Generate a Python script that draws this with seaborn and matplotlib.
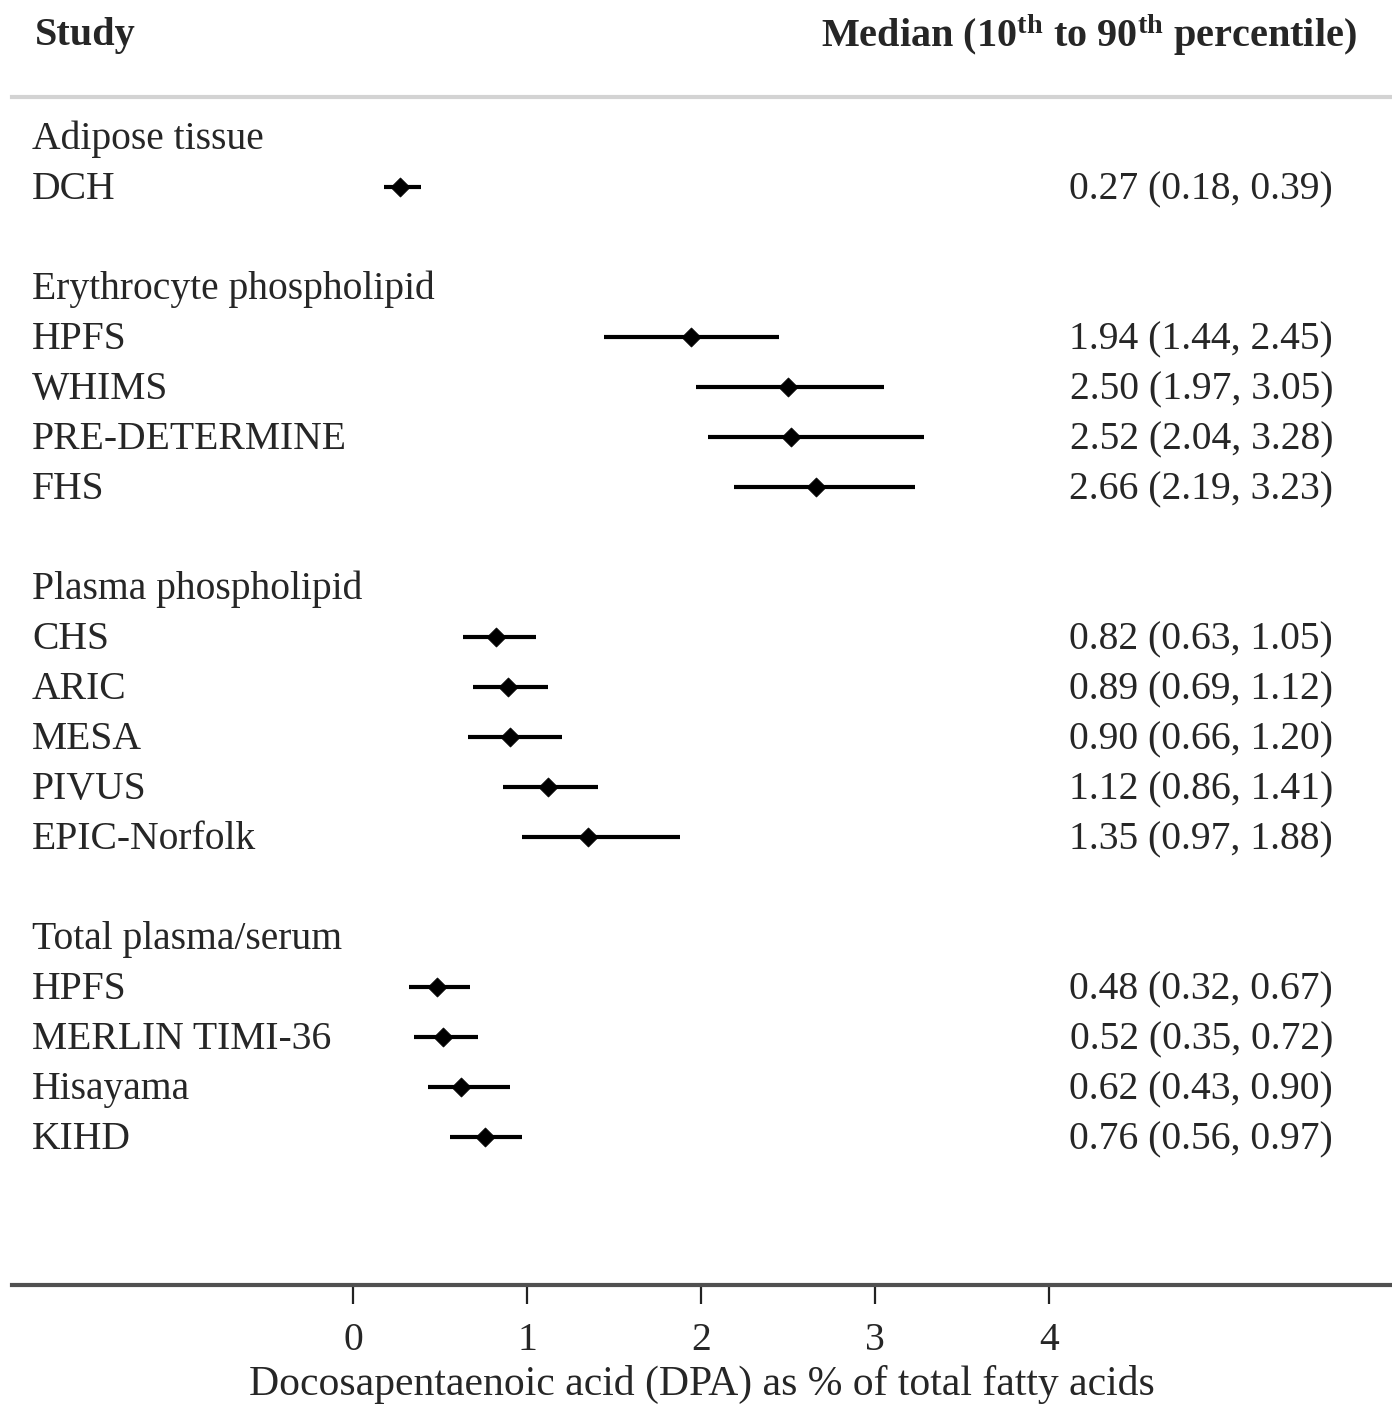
import matplotlib
matplotlib.use("Agg")
import matplotlib.pyplot as plt
import seaborn as sns
import pandas as pd

# Study groups and per-study DPA distributions (% of total fatty acids)
groups = ["Adipose tissue", "Erythrocyte phospholipid", "Plasma phospholipid", "Total plasma/serum"]
group_of_study = [0, 1, 1, 1, 1, 2, 2, 2, 2, 2, 3, 3, 3, 3]
studies = ["DCH", "HPFS", "WHIMS", "PRE-DETERMINE", "FHS",
           "CHS", "ARIC", "MESA", "PIVUS", "EPIC-Norfolk",
           "HPFS", "MERLIN TIMI-36", "Hisayama", "KIHD"]
medians = [0.27, 1.94, 2.50, 2.52, 2.66, 0.82, 0.89, 0.90, 1.12, 1.35, 0.48, 0.52, 0.62, 0.76]
p10 = [0.18, 1.44, 1.97, 2.04, 2.19, 0.63, 0.69, 0.66, 0.86, 0.97, 0.32, 0.35, 0.43, 0.56]
p90 = [0.39, 2.45, 3.05, 3.28, 3.23, 1.05, 1.12, 1.20, 1.41, 1.88, 0.67, 0.72, 0.90, 0.97]
xticks = [0, 1, 2, 3, 4]

sns.set_theme(style="white")
plt.rcParams["font.family"] = ["Liberation Serif", "DejaVu Serif"]
plt.rcParams["mathtext.fontset"] = "custom"
plt.rcParams["mathtext.rm"] = "Liberation Serif:bold"
plt.rcParams["mathtext.bf"] = "Liberation Serif:bold"
plt.rcParams["mathtext.it"] = "Liberation Serif:bold:italic"

FS = 28.5

# Row layout: group header, its studies, then a blank spacer row
header_rows = []
study_rows = []
row = 0
prev = None
for g in group_of_study:
    if g != prev:
        if prev is not None:
            row += 1
        header_rows.append(row)
        row += 1
        prev = g
    study_rows.append(row)
    row += 1

df = pd.DataFrame({"study": studies, "median": medians, "lo": p10, "hi": p90, "row": study_rows})

W, H = 1392, 1405
fig = plt.figure(figsize=(W / 100, H / 100), dpi=100)
ax = fig.add_axes([12 / W, (H - 1285) / H, 1380 / W, (1285 - 97) / H])

ax.hlines(df["row"], df["lo"], df["hi"], color="black", lw=3.0, zorder=2)
sns.scatterplot(data=df, x="median", y="row", marker="D", color="black",
                s=95, edgecolor="black", linewidth=0.5, zorder=3, ax=ax, legend=False)

ax.set_xlim((12 - 353) / 174, (1392 - 353) / 174)
ax.set_ylim(22.96, -0.8)
ax.set_yticks([])
ax.set_xticks(xticks)
ax.set_xticklabels([str(t) for t in xticks], fontsize=FS)
ax.tick_params(axis="x", direction="out", length=14, width=1.6, color="#222222",
               pad=13, bottom=True)
ax.set_xlabel("Docosapentaenoic acid (DPA) as % of total fatty acids", fontsize=30, labelpad=4)
ax.set_ylabel("")
for side in ["left", "right"]:
    ax.spines[side].set_visible(False)
ax.spines["bottom"].set_color("#505050")
ax.spines["bottom"].set_linewidth(3)
ax.spines["top"].set_color("#d3d3d3")
ax.spines["top"].set_linewidth(3)

tr = ax.get_yaxis_transform()
dy = 0.05  # nudge text baseline slightly below row centre
for name, r in zip(groups, header_rows):
    ax.text(20 / 1380, r + dy, name, transform=tr, ha="left", va="center", fontsize=FS)
for s, r, m, lo, hi in zip(studies, study_rows, medians, p10, p90):
    ax.text(20 / 1380, r + dy, s, transform=tr, ha="left", va="center", fontsize=FS)
    ax.text((1333 - 12) / 1380, r + dy, f"{m:.2f} ({lo:.2f}, {hi:.2f})", transform=tr,
            ha="right", va="center", fontsize=FS)

fig.text(35 / W, 1 - 35 / H, "Study", ha="left", va="center", fontsize=29, fontweight="bold")
fig.text(1357 / W, 1 - 35 / H, r"Median (10$^{\mathrm{th}}$ to 90$^{\mathrm{th}}$ percentile)",
         ha="right", va="center", fontsize=29, fontweight="bold")

fig.savefig("out.png", dpi=100, facecolor="white")
